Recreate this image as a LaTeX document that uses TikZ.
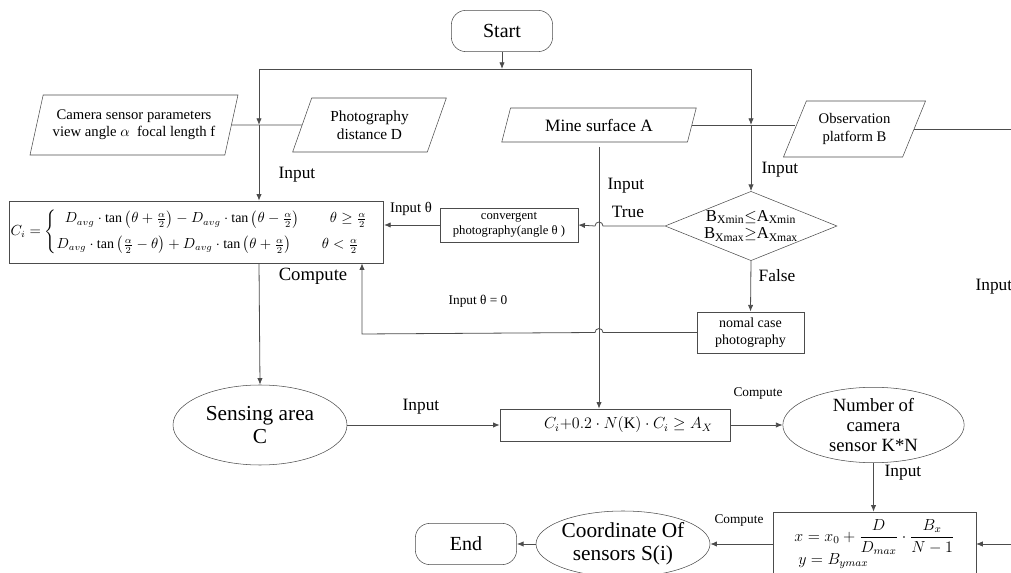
\documentclass[tikz,border=0pt]{standalone}
\usepackage{fontspec}
\setmainfont{Liberation Serif}
\usepackage{amsmath}
\usetikzlibrary{shapes.geometric,arrows.meta}

\begin{document}
\begin{tikzpicture}[x=0.75pt,y=-0.75pt,
  line/.style={draw=black!70,line width=0.6pt},
  arr/.style={line,-{Latex[length=5pt,width=4pt]}},
  term/.style={draw=black!70,rounded corners=11pt,minimum width=76pt,minimum height=31pt,font=\fontsize{15}{17}\selectfont},
  io/.style={draw=black!70,trapezium,trapezium left angle=70,trapezium right angle=110,trapezium stretches=true,align=center,inner sep=1pt},
  box/.style={draw=black!70,rectangle,align=center,inner sep=2pt},
  oval/.style={draw=black!70,ellipse,align=center,inner sep=0pt},
  lbl/.style={font=\fontsize{13}{15}\selectfont,inner sep=1pt},
  slbl/.style={font=\fontsize{10}{12}\selectfont,inner sep=1pt}]
  \useasboundingbox (0,0) rectangle (1011,573);
  \clip (0,0) rectangle (1011,573);
  % nodes
  \node[term] (start) at (502,31) {Start};
  \node[io,minimum width=156pt,minimum height=45pt,font=\fontsize{11}{13}\selectfont] (cam) at (134,125) {Camera sensor parameters\\view angle $\alpha$\ \ focal length f};
  \node[io,trapezium left angle=67,trapezium right angle=113,minimum width=116pt,minimum height=40.5pt,font=\fontsize{11.5}{13.5}\selectfont] (dist) at (369.5,125) {Photography\\distance D};
  \node[io,minimum width=147pt,minimum height=25.5pt,font=\fontsize{13}{15}\selectfont] (mine) at (599,125) {Mine surface A};
  \node[io,trapezium left angle=62,trapezium right angle=118,minimum width=107pt,minimum height=42pt,font=\fontsize{11}{13}\selectfont] (obs) at (854.5,129) {Observation\\platform B};
  \node[draw=black!70,diamond,aspect=2.5,inner sep=0pt,minimum width=129pt,minimum height=52pt,align=center,font=\fontsize{12.5}{13}\selectfont] (dia) at (751,226) {B\textsubscript{Xmin}$\leq$A\textsubscript{Xmin}\\B\textsubscript{Xmax}$\geq$A\textsubscript{Xmax}};
  \node[box,minimum width=103.5pt,minimum height=25.5pt,font=\fontsize{9.5}{11}\selectfont] (conv) at (509,225) {convergent\\photography(angle θ )};
  \node[box,minimum width=80pt,minimum height=31pt,font=\fontsize{10.5}{12.5}\selectfont] (norm) at (750.5,332.5) {nomal case\\photography};
  \node[box,minimum width=280pt,minimum height=46.5pt,inner sep=1pt,font=\fontsize{10.5}{12}\selectfont] (ci) at (196.5,232) {$C_i=\begin{cases}\;\;D_{avg}\cdot\tan\left(\theta+\frac{\alpha}{2}\right)-D_{avg}\cdot\tan\left(\theta-\frac{\alpha}{2}\right)\qquad\theta\geq\frac{\alpha}{2}\\[5pt]D_{avg}\cdot\tan\left(\frac{\alpha}{2}-\theta\right)+D_{avg}\cdot\tan\left(\theta+\frac{\alpha}{2}\right)\qquad\theta<\frac{\alpha}{2}\end{cases}$};
  \node[oval,minimum width=130.5pt,minimum height=60pt,font=\fontsize{16}{17}\selectfont] (sens) at (260,425) {Sensing area\\C};
  \node[box,minimum width=172.5pt,minimum height=24pt,font=\fontsize{12}{14}\selectfont] (fbox) at (615,425) {\hspace*{20pt}$C_i{+}0.2\cdot N(\mathrm{K})\cdot C_i\geq A_X$};
  \node[oval,minimum width=136pt,minimum height=55.5pt,font=\fontsize{14}{15}\selectfont] (num) at (873.5,425) {Number of\\camera\\sensor K*N};
  \node[box,minimum width=152pt,minimum height=48pt,align=left,font=\fontsize{11.5}{13}\selectfont] (xy) at (874.5,544) {$x=x_0+\dfrac{D}{D_{max}}\cdot\dfrac{B_x}{N-1}$\\[-2pt]\ $y=B_{ymax}$};
  \node[oval,minimum width=130.5pt,minimum height=49.5pt,font=\fontsize{16}{17}\selectfont] (coord) at (623,544) {Coordinate Of\\sensors S(i)};
  \node[term] (end) at (466,544) {End};
  % helper points
  \coordinate (topL) at (259,69);
  \coordinate (topR) at (751,69);
  \coordinate (mS) at (599,147);
  \coordinate (back) at (362,334);
  \coordinate (rOut) at (1030,131);
  \coordinate (rIn) at (1030,542);
  % connectors
  \draw[arr] (start) -- (start |- topL);
  \draw[line] (topL) -- (topR);
  \draw[line] (cam.east) -- (dist.west);
  \draw[arr] (topL) -- (topL |- cam.east);
  \draw[arr] (topL |- cam.east) -- (topL |- ci.north);
  \draw[line] (mine.east) -- (mine.east -| obs.west);
  \draw[arr] (topR) -- (topR |- mine.east);
  \draw[arr] (topR |- mine.east) -- (dia.north);
  \draw[line] (obs.east) -- (obs.east -| rOut);
  \draw[arr] (mS) -- (mS |- fbox.north);
  \draw[arr] (dia.west) -- ([xshift=3pt]mS |- dia.west) arc[start angle=0,end angle=180,radius=3pt] -- (conv.east);
  \draw[arr] (conv.west) -- (conv.west -| ci.east);
  \draw[arr] (dia.south) -- (norm.north);
  \draw[arr] (norm.west) -- ([xshift=3pt]mS |- norm.west) arc[start angle=0,end angle=180,radius=3pt] -- (back) -- (back |- ci.south);
  \draw[arr] (topL |- ci.south) -- (sens.north);
  \draw[arr] (sens.east) -- (fbox.west);
  \draw[arr] (fbox.east) -- (num.west);
  \draw[arr] (num.south) -- (num.south |- xy.north);
  \draw[arr] (xy.east -| rIn) -- (xy.east);
  \draw[arr] (xy.west) -- (coord.east);
  \draw[arr] (coord.west) -- (end.east);
  % labels
  \node[lbl] (inA) at (297,175) {Input};
  \node[lbl] (inB) at (780,170) {Input};
  \node[lbl] (inC) at (626,186) {Input};
  \node[lbl] (tru) at (628,212) {True};
  \node[lbl] (fal) at (777,276) {False};
  \node[font=\fontsize{11}{13}\selectfont,inner sep=1pt] (inT) at (411,209) {Input θ};
  \node[font=\fontsize{14}{16}\selectfont,inner sep=1pt] (cmpA) at (313,276) {Compute};
  \node[slbl] (inZ) at (478,301) {Input θ = 0};
  \node[lbl] (inD) at (421,407) {Input};
  \node[slbl] (cmpB) at (758,394) {Compute};
  \node[lbl] (inE) at (903,473) {Input};
  \node[slbl] (cmpC) at (739,521) {Compute};
  \node[lbl,anchor=west] (inF) at (974,287) {Input};
\end{tikzpicture}
\end{document}
